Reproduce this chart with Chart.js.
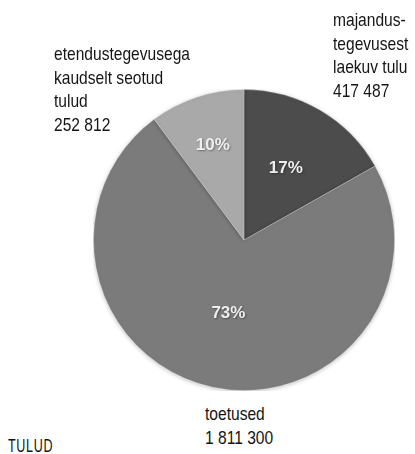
<!DOCTYPE html>
<html>
<head>
<meta charset="utf-8">
<script src="https://cdn.jsdelivr.net/npm/chart.js@4/dist/chart.umd.min.js"></script>
<style>
  body { margin: 0; background: #fff; }
  #wrap { position: relative; width: 415px; height: 454px; overflow: hidden; }
  #pie { position: absolute; left: 93px; top: 89px; }
  .lbl {
    position: absolute;
    font-family: "Liberation Sans", Arial, sans-serif;
    font-size: 19px;
    line-height: 23.5px;
    color: #151515;
    white-space: nowrap;
    transform: scaleX(0.82);
    transform-origin: 0 0;
  }
  #title { letter-spacing: 1px; transform: scaleX(0.66); }
</style>
</head>
<body>
<div id="wrap">
  <canvas id="pie" width="302" height="302"></canvas>
  <div class="lbl" id="lbl0" style="left:333px; top:8px;"></div>
  <div class="lbl" id="lbl1" style="left:205px; top:402px;"></div>
  <div class="lbl" id="lbl2" style="left:54px; top:42px;"></div>
  <div class="lbl" id="title" style="left:8px; top:434px;">TULUD</div>
</div>
<script>
// income sources, clockwise from 12 o'clock
var categories = [
  "majandus-\ntegevusest\nlaekuv tulu",
  "toetused",
  "etendustegevusega\nkaudselt seotud\ntulud",
];
var amounts = [417487, 1811300, 252812];
var sliceColors = ["#4c4c4c", "#7b7b7b", "#a9a9a9"];
var labelRadius = [0.55, 0.5, 0.66]; // how far out the % label sits

function fmt(n) {
  return String(n).replace(/\B(?=(\d{3})+(?!\d))/g, " ");
}

// outer labels: name + amount
categories.forEach(function (name, i) {
  var el = document.getElementById("lbl" + i);
  el.innerHTML = name.split("\n").concat(fmt(amounts[i])).join("<br>");
});

var total = amounts.reduce(function (a, b) { return a + b; }, 0);

// draw percentages inside slices
var percentLabels = {
  id: "percentLabels",
  afterDatasetsDraw: function (chart) {
    var ctx = chart.ctx;
    var meta = chart.getDatasetMeta(0);
    ctx.save();
    ctx.font = "bold 17px 'Liberation Sans', Arial, sans-serif";
    ctx.textAlign = "center";
    ctx.textBaseline = "middle";
    ctx.fillStyle = "#eeeeee";
    ctx.shadowColor = "rgba(0,0,0,0.35)";
    ctx.shadowBlur = 2;
    ctx.shadowOffsetX = 1;
    ctx.shadowOffsetY = 1;
    meta.data.forEach(function (arc, i) {
      var p = arc.getProps(["x", "y", "startAngle", "endAngle", "outerRadius"], true);
      var mid = (p.startAngle + p.endAngle) / 2;
      var r = p.outerRadius * labelRadius[i];
      var pct = Math.round((amounts[i] / total) * 100) + "%";
      ctx.fillText(pct, p.x + Math.cos(mid) * r, p.y + Math.sin(mid) * r);
    });
    ctx.restore();
  },
};

// soft shadow around the pie
var pieShadow = {
  id: "pieShadow",
  beforeDatasetsDraw: function (chart) {
    var ctx = chart.ctx;
    ctx.save();
    ctx.shadowColor = "rgba(0,0,0,0.25)";
    ctx.shadowBlur = 4;
    ctx.shadowOffsetY = 1;
  },
  afterDatasetsDraw: function (chart) {
    chart.ctx.restore();
  },
};

var ctx = document.getElementById("pie").getContext("2d");
var chart = new Chart(ctx, {
  type: "pie",
  data: {
    labels: categories,
    datasets: [
      {
        data: amounts,
        backgroundColor: sliceColors,
        borderColor: "rgba(255,255,255,0.25)",
        borderWidth: 1,
      },
    ],
  },
  options: {
    responsive: false,
    animation: false,
    layout: { padding: 0 },
    plugins: {
      legend: { display: false },
      tooltip: { enabled: false },
    },
  },
  plugins: [pieShadow, percentLabels],
});
</script>
</body>
</html>
